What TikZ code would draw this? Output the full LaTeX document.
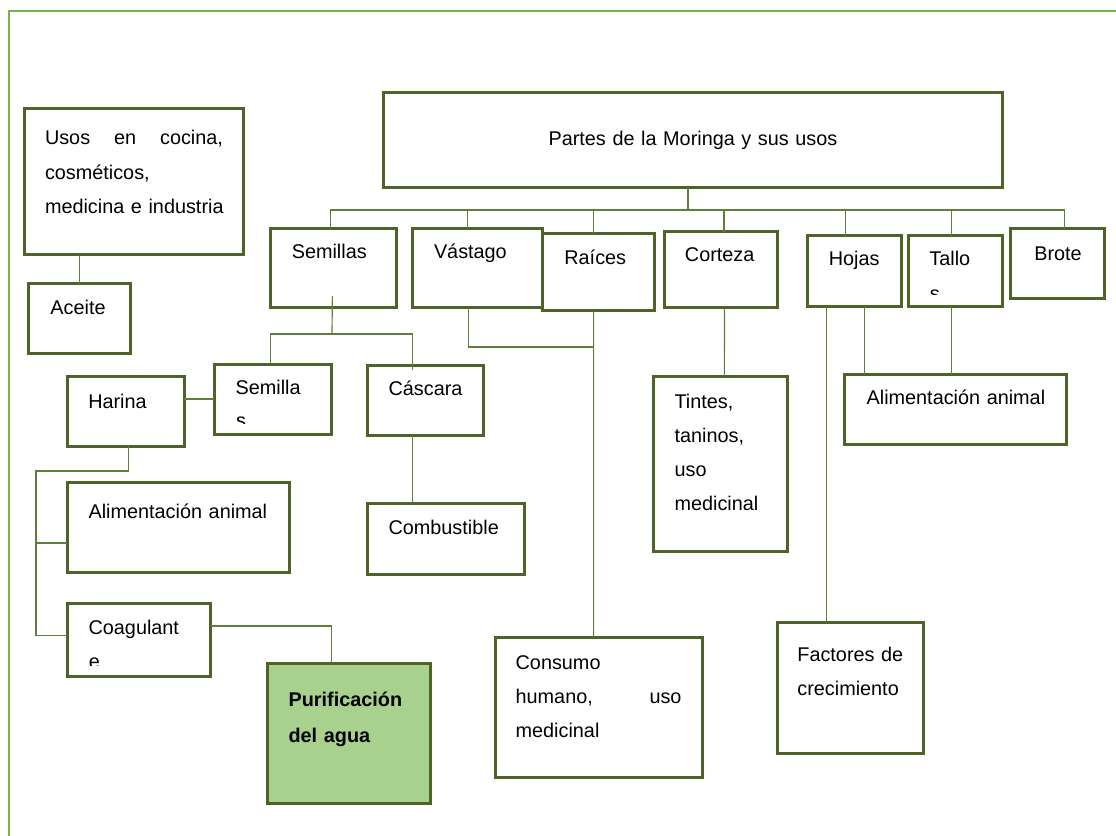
\documentclass[tikz,border=0pt]{standalone}
\usepackage{fontspec}
\setmainfont{Liberation Sans}
\usepackage{xcolor}
\usepackage{tikz}
\usetikzlibrary{calc}

\definecolor{boxgreen}{HTML}{4F6228}
\definecolor{linkgreen}{HTML}{5E7F3A}
\definecolor{framegreen}{HTML}{77B24A}
\definecolor{purifill}{HTML}{A9D18E}

\begin{document}
\begin{tikzpicture}[x=0.6pt, y=-0.6pt,
    part/.style={draw=boxgreen, line width=1.8pt, anchor=north west, outer sep=0pt, inner ysep=0pt, align=left, font=\fontsize{11.9}{20.6}\selectfont},
    tail/.style={anchor=base west, inner sep=0pt, font=\fontsize{11.9}{20.6}\selectfont},
    link/.style={draw=linkgreen, line width=0.7pt}]
    \useasboundingbox (0,0) rectangle (1116,836);

    % Page frame (top and left only)
    \draw[framegreen, line width=1.6pt] (9,836) -- (9,11) -- (1116,11);

    % Title box
    \node[part, align=center, text width=348pt, inner xsep=12pt, text height=31.8pt, text depth=25.2pt] (partes) at (383,93) {Partes de la Moringa y sus usos};

    % Parts row
    \node[part, text width=49.9pt, inner xsep=12.84pt, text height=18pt, text depth=29.4pt] (semillas) at (270.4,229) {Semillas};
    \node[part, text width=52.4pt, inner xsep=12.9pt, text height=18pt, text depth=29.4pt] (vastago) at (412.5,229) {Vástago};
    \node[part, text width=41.1pt, inner xsep=12.9pt, text height=18.6pt, text depth=27.6pt] (raices) at (542.9,234) {Raíces};
    \node[part, text width=43.3pt, inner xsep=12.2pt, text height=18pt, text depth=27.6pt] (corteza) at (664.6,232) {Corteza};
    \node[part, text width=31.3pt, inner xsep=12.6pt, text height=18pt, text depth=24.6pt] (hojas) at (807.8,236) {Hojas};
    \node[part, text width=31.4pt, inner xsep=12.4pt, text height=18pt, text depth=24.6pt] (tallo) at (908.8,236) {Tallo};
    \node[part, text width=28.1pt, inner xsep=14.2pt, text height=18.6pt, text depth=23.4pt] (brote) at (1010.6,229) {Brote};

    % Oil uses
    \node[part, text width=106.8pt, inner xsep=12.6pt, text height=21.6pt, text depth=66pt] (usos) at (24,109) {\makebox[\hsize][l]{Usos\hfill en\hfill cocina,}\\cosméticos,\\\mbox{medicina e industria}};
    \node[part, text width=34.7pt, inner xsep=13.1pt, text height=18.6pt, text depth=23.4pt] (aceite) at (28.6,284) {Aceite};

    % Seed products
    \node[part, text width=44.8pt, inner xsep=12.7pt, text height=19.2pt, text depth=22.8pt] (harina) at (67.1,376) {Harina};
    \node[part, text width=44.6pt, inner xsep=12.8pt, text height=18pt, text depth=24pt] (semilla) at (214.3,364) {Semilla};
    \node[part, text width=44.3pt, inner xsep=12.9pt, text height=18pt, text depth=24pt] (cascara) at (367.1,365) {Cáscara};
    \node[part, text width=107.5pt, inner xsep=12.9pt, text height=21.6pt, text depth=32.4pt] (alimizq) at (67.1,482) {\mbox{Alimentación animal}};
    \node[part, text width=69pt, inner xsep=12.4pt, text height=18.6pt, text depth=24pt] (combustible) at (367.9,503) {Combustible};
    \node[part, text width=60.4pt, inner xsep=12.9pt, text height=18.6pt, text depth=25.2pt] (coag) at (67.1,603) {Coagulant};
    \node[part, fill=purifill, font=\fontsize{11.9}{21.6}\selectfont\bfseries, text width=72.2pt, inner xsep=12.9pt, text height=25.8pt, text depth=58.2pt] (purif) at (267.1,663) {Purificación\\del agua};

    % Other uses
    \node[part, text width=54.9pt, inner xsep=12.6pt, text height=19.2pt, text depth=86.4pt] (tintes) at (653.6,376) {Tintes,\\taninos,\\uso\\medicinal};
    \node[part, text width=106.4pt, inner xsep=13.4pt, text height=18pt, text depth=24pt] (alimder) at (844.3,374) {\mbox{Alimentación animal}};
    \node[part, text width=99.5pt, inner xsep=12.4pt, text height=19.2pt, text depth=64.8pt] (consumo) at (495,637) {Consumo\\\makebox[\hsize][l]{humano,\hfill uso}\\medicinal};
    \node[part, text width=63.6pt, inner xsep=12pt, text height=23.4pt, text depth=55.2pt] (factores) at (777.4,622) {\mbox{Factores de}\\crecimiento};

    % Wrapped letters cut off by their boxes
    \begin{scope}
        \clip (semilla.north west) rectangle ($(semilla.south east)+(0,-11)$);
        \node[tail] (semillatail) at (235.7,428) {s};
    \end{scope}
    \begin{scope}
        \clip (tallo.north west) rectangle ($(tallo.south east)+(0,-12.5)$);
        \node[tail] (tallotail) at (929.5,301) {s};
    \end{scope}
    \begin{scope}
        \clip (coag.north west) rectangle ($(coag.south east)+(0,-11)$);
        \node[tail] (coagtail) at (88.6,668) {e};
    \end{scope}

    % Trunk and parts bus
    \coordinate (bus) at (688,210);
    \draw[link] (partes.south -| bus) -- (bus);
    \foreach \kid/\dx in {semillas/-3, vastago/-10, raices/-5, corteza/3, hojas/-9, tallo/-4, brote/7}
        \draw[link] ($(\kid.north)+(\dx,0)$) |- (bus);

    % Aceite
    \draw[link] (aceite.north) -- (aceite.north |- usos.south);

    % Semillas branch
    \coordinate (semjoint) at (332,334);
    \draw[link] ($(semillas.south)+(-1,-12)$) -- (semjoint);
    \draw[link] ($(semilla.north)+(-2.5,0)$) |- (semjoint) -| ($(cascara.north)+(-13,5)$);
    \draw[link] (semilla.west) -- (semilla.west -| harina.east);
    \draw[link] ($(cascara.south)+(-13,0)$) coordinate (cs) -- (cs |- combustible.north);

    % Harina branch
    \coordinate (spine) at (36,471);
    \draw[link] ($(harina.south)+(3,0)$) |- (spine) |- ($(coag.west)+(0,-4)$);
    \draw[link] ($(alimizq.west)+(0,16)$) -| (spine);
    \draw[link] ($(coag.east)+(0,-13.5)$) -| ($(purif.north)+(-17,0)$);

    % Vastago and Raices
    \draw[link] ($(vastago.south)+(-9,0)$) |- ($(raices.south)+(-5,36)$);
    \draw[link] ($(raices.south)+(-5,0)$) -- ($(consumo.north)+(-5,0)$);

    % Corteza, Hojas and Tallo
    \draw[link] ($(corteza.south)+(3.5,0)$) -- ($(tintes.north)+(4,0)$);
    \draw[link] ($(hojas.south)+(9.3,0)$) coordinate (hl) -- (hl |- alimder.north);
    \draw[link] ($(tallo.south)+(-4.3,0)$) coordinate (tl) -- (tl |- alimder.north);
    \draw[link] ($(hojas.south)+(-28,0)$) coordinate (fl) -- (fl |- factores.north);
\end{tikzpicture}
\end{document}
